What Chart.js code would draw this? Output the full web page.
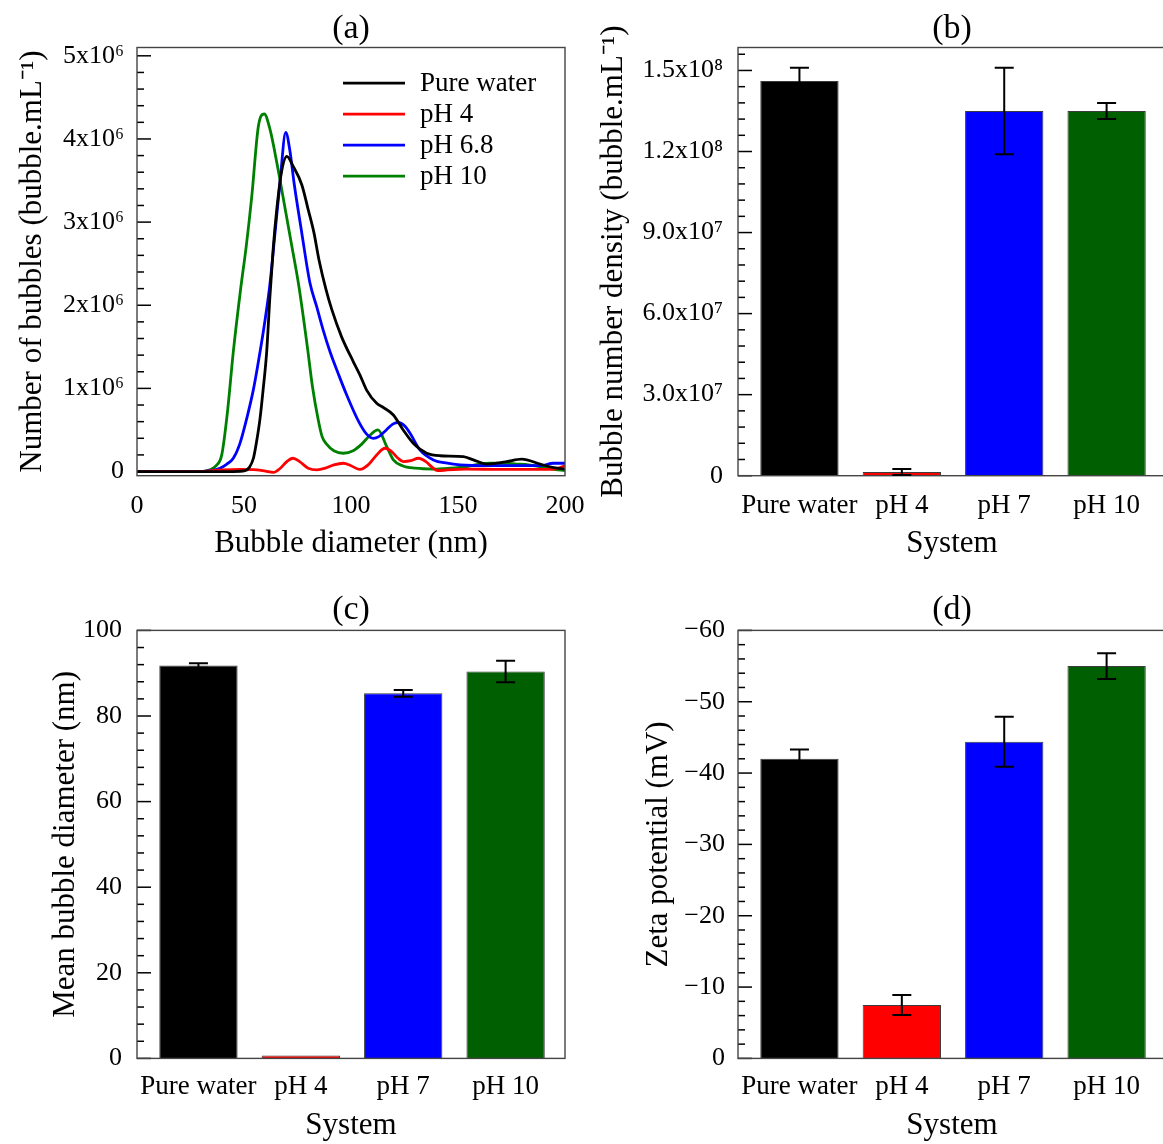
<!DOCTYPE html>
<html>
<head>
<meta charset="utf-8">
<title>Nanobolhas</title>
<script src="https://cdn.jsdelivr.net/npm/chart.js@4.4.0/dist/chart.umd.min.js"></script>
<style>
    html, body { margin: 0; padding: 0; background: #fff; overflow: hidden; }
    body { width: 1163px; height: 1144px; position: relative; }
    canvas { position: absolute; }
    #graficoA { left: 0; top: 0; }
    #graficoB { left: 580px; top: 0; }
    #graficoC { left: 0; top: 580px; }
    #graficoD { left: 580px; top: 580px; }
</style>
</head>
<body>
<canvas id="graficoA" width="600" height="580"></canvas>
<canvas id="graficoB" width="600" height="580"></canvas>
<canvas id="graficoC" width="600" height="564"></canvas>
<canvas id="graficoD" width="600" height="564"></canvas>
<script>
// Distribuição de tamanho (diâmetro em nm, contagem em 10^6 bolhas/mL)
const pureWaterD = [0, 30, 45, 50.5, 52.5, 54.4, 56, 57.5, 59, 60.6, 62.1, 63.7, 65.3, 67.5, 70, 73, 77, 80, 82.7, 85, 88.3, 91, 95.6, 101.1, 104.2, 107.3, 112, 115.1, 119.8, 124.4, 129.1, 135.4, 141.6, 152.5, 157.2, 163.4, 168, 172.8, 179.8, 188.3, 194, 200];
const pureWaterN = [0, 0, 0, 0.01, 0.05, 0.16, 0.38, 0.64, 1.0, 1.44, 2.1, 2.7, 3.15, 3.6, 3.79, 3.67, 3.45, 3.15, 2.87, 2.55, 2.19, 1.95, 1.62, 1.32, 1.16, 0.98, 0.82, 0.77, 0.68, 0.5, 0.34, 0.22, 0.19, 0.18, 0.14, 0.09, 0.1, 0.12, 0.15, 0.09, 0.05, 0.03];

const ph4D = [0, 28, 40, 48, 56, 60, 63.7, 67, 70, 72.9, 76, 80, 84, 88, 92, 96.4, 100, 104.2, 108, 112, 115.9, 119, 122, 124.4, 128, 131.5, 135, 138, 140.5, 145, 154, 170, 185, 195, 200];
const ph4N = [0, 0, 0.02, 0.025, 0.02, 0.005, -0.01, 0.04, 0.12, 0.16, 0.12, 0.04, 0.02, 0.04, 0.08, 0.1, 0.07, 0.025, 0.08, 0.2, 0.28, 0.24, 0.16, 0.12, 0.13, 0.16, 0.12, 0.05, 0.01, 0.02, 0.03, 0.025, 0.025, 0.03, 0.07];

const ph68D = [0, 30, 34, 38.8, 42, 45, 48, 51.3, 54.5, 57.5, 60, 62.1, 64.5, 66.8, 69.5, 71.5, 73.4, 77, 80.8, 84, 87, 90.2, 94, 98, 103.6, 107.3, 110.4, 113, 116.5, 119.5, 122.1, 125, 127.6, 132.2, 138.5, 145, 150.9, 163.4, 177.4, 188.3, 194.5, 200];
const ph68N = [0, 0, 0.01, 0.04, 0.09, 0.16, 0.33, 0.64, 1.0, 1.44, 1.85, 2.25, 2.87, 3.47, 4.08, 3.85, 3.47, 2.87, 2.27, 1.98, 1.7, 1.44, 1.18, 0.92, 0.6, 0.45, 0.4, 0.42, 0.5, 0.57, 0.59, 0.55, 0.46, 0.26, 0.14, 0.1, 0.08, 0.07, 0.07, 0.07, 0.1, 0.1];

const ph10D = [0, 30, 34, 37, 39.6, 42.2, 45, 48.4, 51, 53.6, 56.7, 59.5, 62.1, 65.3, 68.4, 72.3, 75.7, 79.6, 82, 84.7, 86.5, 88.6, 92, 96.4, 101, 105, 109, 112.6, 116.7, 119.8, 124, 130, 138.5, 146, 154, 160, 165, 171, 177.4, 183, 188.3, 194, 200];
const ph10N = [0, 0, 0.02, 0.07, 0.2, 0.7, 1.44, 2.19, 2.7, 3.3, 4.15, 4.3, 4.12, 3.72, 3.28, 2.72, 2.22, 1.5, 1.02, 0.62, 0.42, 0.33, 0.25, 0.22, 0.25, 0.33, 0.44, 0.5, 0.3, 0.14, 0.07, 0.04, 0.03, 0.04, 0.06, 0.09, 0.1, 0.1, 0.09, 0.08, 0.06, 0.03, 0.01];

const seriesLabels = ["Pure water", "pH 4", "pH 6.8", "pH 10"];
const diameterTicks = [0, 50, 100, 150, 200];

// Gráficos de barras (b), (c), (d)
const systems = ["Pure water", "pH 4", "pH 7", "pH 10"];
const density = [1.461e8, 1.4e6, 1.35e8, 1.35e8];
const densityErr = [4.9e6, 1.1e6, 1.6e7, 3.0e6];
const densityTicks = [0, 3e7, 6e7, 9e7, 1.2e8, 1.5e8];
const meanDiameter = [91.8, 0.7, 85.3, 90.4];
const meanDiameterErr = [0.5, 0, 0.8, 2.5];
const zeta = [-42.0, -7.5, -44.4, -55.0];
const zetaErr = [1.3, 1.4, 3.5, 1.8];

const lineColors = ["#000000", "#ff0000", "#0000ff", "#008000"];
const barColors = ["#000000", "#ff0000", "#0000ff", "#005f00"];

Chart.defaults.font.family = "'Liberation Serif', 'Times New Roman', serif";
Chart.defaults.color = "#000";
Chart.defaults.animation = false;
Chart.defaults.events = [];

const SUP = { "-": "\u207B", "0": "\u2070", "1": "\u00B9", "2": "\u00B2", "3": "\u00B3", "4": "\u2074", "5": "\u2075", "6": "\u2076", "7": "\u2077", "8": "\u2078", "9": "\u2079" };
function sup(n) {
    return String(n).split("").map((c) => SUP[c]).join("");
}

function sci(v) {
    if (v === 0) return "0";
    const exp = Math.floor(Math.log10(v) + 1e-9);
    return (v / Math.pow(10, exp)).toFixed(1) + "x10" + sup(exp);
}

function pontos(xs, ys) {
    return xs.map((x, i) => ({ x: x, y: ys[i] }));
}

// Moldura do gráfico e marcas do eixo y voltadas para dentro
const molduraPlugin = {
    id: "moldura",
    afterDatasetsDraw(chart, args, opts) {
        const { ctx, chartArea: a } = chart;
        const y = chart.scales.y;
        const lo = Math.min(y.min, y.max);
        const hi = Math.max(y.min, y.max);
        ctx.save();
        ctx.strokeStyle = "#000";
        ctx.lineWidth = 1.5;
        for (let k = Math.ceil(lo / opts.minor - 1e-9); k * opts.minor <= hi + 1e-9; k++) {
            const v = k * opts.minor;
            const r = v / opts.major;
            const major = Math.abs(r - Math.round(r)) < 1e-6;
            const py = y.getPixelForValue(v);
            ctx.beginPath();
            ctx.moveTo(a.left, py);
            ctx.lineTo(a.left + (major ? 14 : 7), py);
            ctx.stroke();
        }
        ctx.strokeStyle = "#444";
        ctx.lineWidth = 1.4;
        ctx.strokeRect(a.left, a.top, a.right - a.left, a.bottom - a.top);
        ctx.restore();
    },
};

// Barras de erro desenhadas a partir do array "erro" de cada dataset
const barrasErroPlugin = {
    id: "barrasErro",
    afterDatasetsDraw(chart) {
        const { ctx } = chart;
        const y = chart.scales.y;
        chart.data.datasets.forEach((ds, di) => {
            if (!ds.erro) return;
            chart.getDatasetMeta(di).data.forEach((bar, i) => {
                const e = ds.erro[i];
                if (!e) return;
                const v = ds.data[i].y;
                const y1 = y.getPixelForValue(v + e);
                const y2 = y.getPixelForValue(v - e);
                ctx.save();
                ctx.strokeStyle = "#000";
                ctx.lineWidth = 2;
                ctx.beginPath();
                ctx.moveTo(bar.x, y1);
                ctx.lineTo(bar.x, y2);
                ctx.moveTo(bar.x - 9.5, y1);
                ctx.lineTo(bar.x + 9.5, y1);
                ctx.moveTo(bar.x - 9.5, y2);
                ctx.lineTo(bar.x + 9.5, y2);
                ctx.stroke();
                ctx.restore();
            });
        });
    },
};

// Legenda dentro da área do gráfico (a)
const legendaPlugin = {
    id: "legendaInterna",
    afterDatasetsDraw(chart) {
        const { ctx, chartArea: a } = chart;
        ctx.save();
        ctx.font = "27px 'Liberation Serif', 'Times New Roman', serif";
        ctx.textBaseline = "middle";
        ctx.fillStyle = "#000";
        chart.data.datasets.forEach((ds, i) => {
            const yy = a.top + 35.7 + i * 31;
            ctx.strokeStyle = ds.borderColor;
            ctx.lineWidth = 2.8;
            ctx.beginPath();
            ctx.moveTo(a.left + 206, yy);
            ctx.lineTo(a.left + 268, yy);
            ctx.stroke();
            ctx.fillText(ds.label, a.left + 283, yy + 1);
        });
        ctx.restore();
    },
};

function tituloPainel(texto, padTop, padBottom) {
    return {
        display: true,
        text: texto,
        fullSize: false,
        font: { size: 34, weight: "normal", lineHeight: 1 },
        padding: { top: padTop, bottom: padBottom },
    };
}

function eixoY(largura, tituloTexto, tituloPad, extra) {
    return Object.assign({
        grid: { display: false, drawTicks: false },
        border: { display: false },
        ticks: { font: { size: 26 }, padding: 14, includeBounds: false },
        title: { display: true, text: tituloTexto, font: { size: 31 }, padding: { top: tituloPad } },
        afterFit(scale) {
            scale.width = largura;
            scale.paddingTop = 0;
            scale.paddingBottom = 0;
        },
    }, extra);
}

function eixoXBarras(altura, tickPad, tituloPadBottom) {
    return {
        type: "linear",
        offset: false,
        min: 0.4,
        max: 4.58,
        grid: { display: false, drawTicks: false },
        border: { display: false },
        ticks: {
            stepSize: 1,
            includeBounds: false,
            autoSkip: false,
            maxRotation: 0,
            padding: tickPad,
            font: { size: 27 },
            callback: (v) => systems[v - 1] || "",
        },
        title: { display: true, text: "System", font: { size: 31 }, padding: { bottom: tituloPadBottom } },
        afterFit(scale) {
            scale.height = altura;
            scale.paddingLeft = 0;
            scale.paddingRight = 0;
        },
    };
}

function dadosBarras(valores, erros) {
    return {
        datasets: [{
            data: valores.map((v, i) => ({ x: i + 1, y: v })),
            erro: erros,
            backgroundColor: barColors,
            borderColor: "#3c3c3c",
            borderWidth: 1,
            barPercentage: 0.765,
            categoryPercentage: 1,
        }],
    };
}

// Gráfico (a) - distribuição de tamanho
new Chart(document.getElementById("graficoA"), {
    type: "line",
    data: {
        datasets: [
            [pureWaterD, pureWaterN],
            [ph4D, ph4N],
            [ph68D, ph68N],
            [ph10D, ph10N],
        ].map((s, i) => ({
            label: seriesLabels[i],
            data: pontos(s[0], s[1]),
            borderColor: lineColors[i],
            borderWidth: 2.8,
            pointRadius: 0,
            cubicInterpolationMode: "monotone",
            fill: false,
        })),
    },
    options: {
        responsive: false,
        layout: { padding: { left: 0, right: 35, top: 0, bottom: 0 } },
        plugins: {
            legend: { display: false },
            tooltip: { enabled: false },
            title: tituloPainel("(a)", 12, 1.5),
            moldura: { minor: 0.2, major: 1 },
        },
        scales: {
            x: {
                type: "linear",
                min: 0,
                max: 200,
                grid: { display: false, drawTicks: false },
                border: { display: false },
                afterBuildTicks(scale) {
                    scale.ticks = diameterTicks.map((v) => ({ value: v }));
                },
                ticks: { font: { size: 26 }, padding: 15, maxRotation: 0 },
                title: { display: true, text: "Bubble diameter (nm)", font: { size: 31 }, padding: { bottom: 18 } },
                afterFit(scale) {
                    scale.height = 104.3;
                    scale.paddingLeft = 0;
                    scale.paddingRight = 0;
                },
            },
            y: eixoY(137, "Number of bubbles (bubble.mL\u207B\u00B9)", 14, {
                min: -0.05,
                max: 5.1,
                ticks: {
                    font: { size: 26 },
                    padding: 13,
                    stepSize: 1,
                    includeBounds: false,
                    callback: (v) => (v === 0 ? "0" : v + "x10" + sup(6)),
                },
            }),
        },
    },
    plugins: [molduraPlugin, legendaPlugin],
});

// Gráfico (b) - densidade numérica de bolhas
new Chart(document.getElementById("graficoB"), {
    type: "bar",
    data: dadosBarras(density, densityErr),
    options: {
        responsive: false,
        layout: { padding: { left: 0, right: 14, top: 0, bottom: 0 } },
        plugins: {
            legend: { display: false },
            tooltip: { enabled: false },
            title: tituloPainel("(b)", 12, 1.5),
            moldura: { minor: 6e6, major: 3e7 },
        },
        scales: {
            x: eixoXBarras(104.3, 14, 18),
            y: eixoY(158, "Bubble number density (bubble.mL\u207B\u00B9)", 15, {
                min: 0,
                max: 1.585e8,
                afterBuildTicks(scale) {
                    scale.ticks = densityTicks.map((v) => ({ value: v }));
                },
                ticks: { font: { size: 26 }, padding: 15, callback: (v) => sci(v) },
            }),
        },
    },
    plugins: [molduraPlugin, barrasErroPlugin],
});

// Gráfico (c) - diâmetro médio
new Chart(document.getElementById("graficoC"), {
    type: "bar",
    data: dadosBarras(meanDiameter, meanDiameterErr),
    options: {
        responsive: false,
        layout: { padding: { left: 0, right: 35, top: 0, bottom: 0 } },
        plugins: {
            legend: { display: false },
            tooltip: { enabled: false },
            title: tituloPainel("(c)", 13, 3.4),
            moldura: { minor: 4, major: 20 },
        },
        scales: {
            x: eixoXBarras(85.6, 12, 0),
            y: eixoY(137, "Mean bubble diameter (nm)", 47, {
                min: 0,
                max: 100,
                ticks: { font: { size: 26 }, padding: 15, stepSize: 20, includeBounds: false },
            }),
        },
    },
    plugins: [molduraPlugin, barrasErroPlugin],
});

// Gráfico (d) - potencial zeta
new Chart(document.getElementById("graficoD"), {
    type: "bar",
    data: dadosBarras(zeta, zetaErr),
    options: {
        responsive: false,
        layout: { padding: { left: 0, right: 14, top: 0, bottom: 0 } },
        plugins: {
            legend: { display: false },
            tooltip: { enabled: false },
            title: tituloPainel("(d)", 13, 3.4),
            moldura: { minor: 2, major: 10 },
        },
        scales: {
            x: eixoXBarras(85.6, 12, 0),
            y: eixoY(158, "Zeta potential (mV)", 60, {
                min: -60,
                max: 0,
                reverse: true,
                ticks: {
                    font: { size: 26 },
                    padding: 13,
                    stepSize: 10,
                    includeBounds: false,
                    callback: (v) => (v < 0 ? "\u2212" + Math.abs(v) : "0"),
                },
            }),
        },
    },
    plugins: [molduraPlugin, barrasErroPlugin],
});
</script>
</body>
</html>
